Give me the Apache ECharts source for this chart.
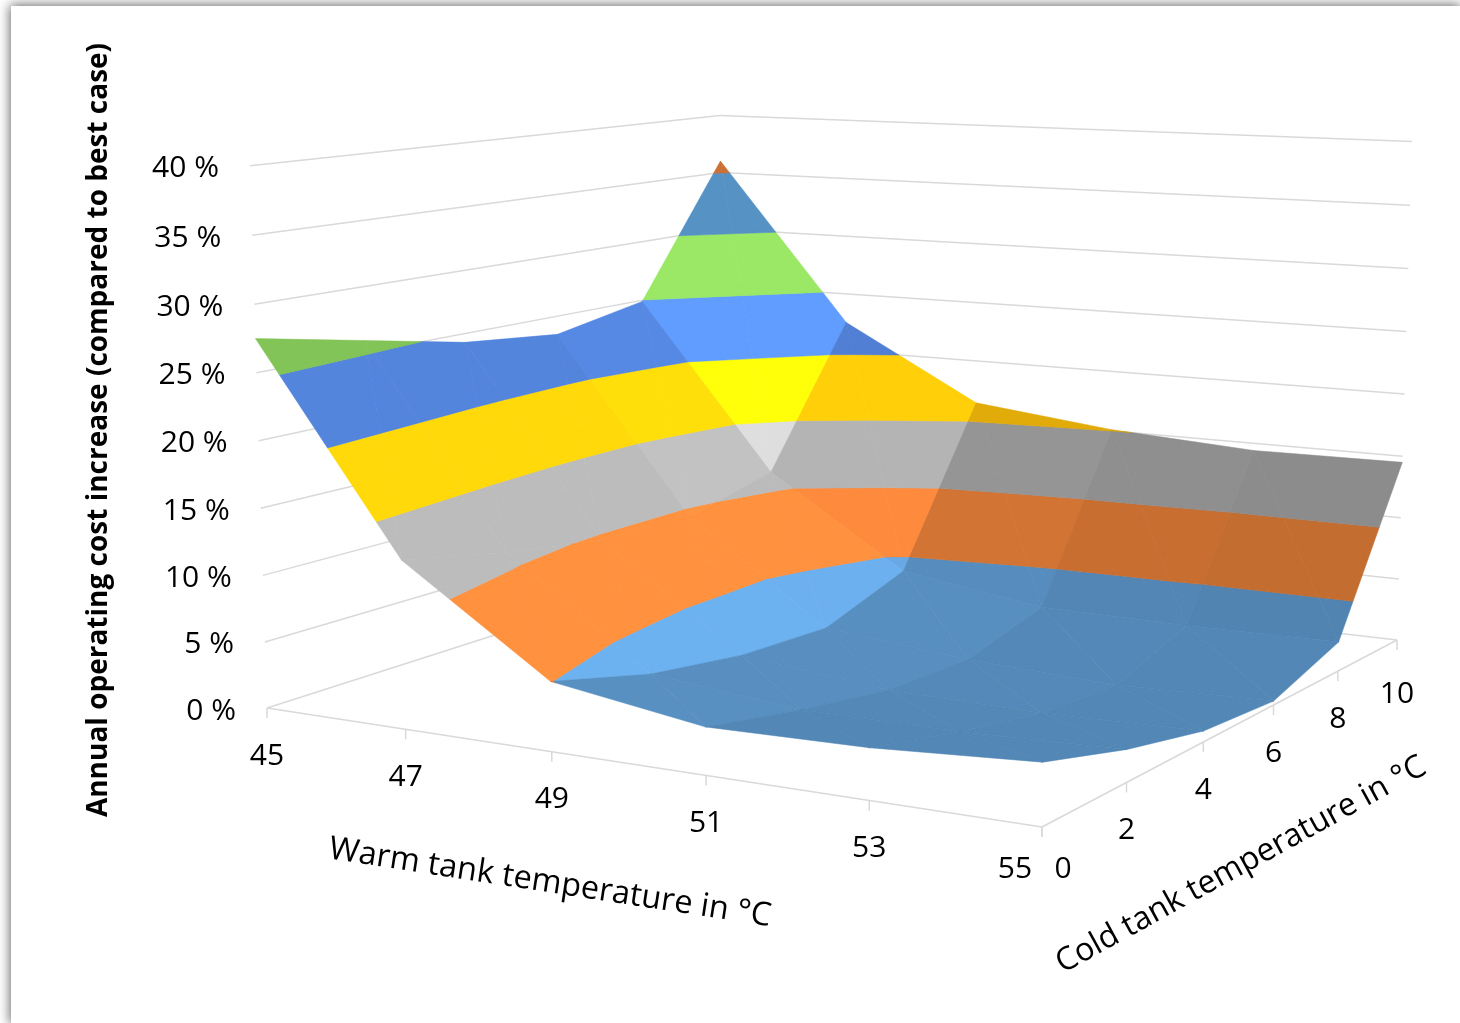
<!DOCTYPE html>
<html>
<head>
<meta charset="utf-8">
<style>
  html, body { margin: 0; height: 100%; background: #fff; overflow: hidden; }
  #chart { position: absolute; left: 11px; top: 6px; width: 1449px; height: 1017px; background: #fff; box-shadow: 0 0 11px 1px #666; }
</style>
<script src="https://cdn.jsdelivr.net/npm/echarts@6/dist/echarts.min.js"></script>
</head>
<body>
<div id="chart"></div>
<script>
const warmTemps = [45, 47, 49, 51, 53, 55]
const coldTemps = [0, 2, 4, 6, 8, 10]
const costLevels = [0, 5, 10, 15, 20, 25, 30, 35, 40]
const costLabels = ['0 %', '5 %', '10 %', '15 %', '20 %', '25 %', '30 %', '35 %', '40 %']

// cost increase in %, one list per warm tank temperature, cold 0 -> 10
const costWarm45 = [27.5, 25.9, 24.3, 23.5, 24.9, 36.0]
const costWarm47 = [12.4, 10.8, 9.6, 9.4, 11.2, 22.5]
const costWarm49 = [5.05, 3.0, 1.9, 1.6, 4.0, 16.4]
const costWarm51 = [3.4, 1.9, 0.7, 0.5, 2.3, 15.1]
const costWarm53 = [3.6, 1.9, 0.5, 0.0, 2.2, 14.4]
const costWarm55 = [4.3, 2.3, 0.8, 0.3, 2.3, 14.5]
const costRows = [costWarm45, costWarm47, costWarm49, costWarm51, costWarm53, costWarm55]

const bandColors = ['#5B9BD5', '#ED7D31', '#A5A5A5', '#FFC000', '#4472C4', '#70AD47', '#3C6A92', '#965022']

// projection of the 3d box, fitted on the corners of the reference
const floorCorners = [[267, 708], [1042, 827], [1397, 640], [723, 562]]
const topLeftFront = [250, 166]
const verticalVanish = [842, 19051]

function buildCamera() {
  const [[x0, y0], [x1, y1], [x2, y2], [x3, y3]] = floorCorners
  const dx1 = x1 - x2, dx2 = x3 - x2, sx = x0 - x1 + x2 - x3
  const dy1 = y1 - y2, dy2 = y3 - y2, sy = y0 - y1 + y2 - y3
  const den = dx1 * dy2 - dx2 * dy1
  const g = (sx * dy2 - dx2 * sy) / den
  const h = (dx1 * sy - sx * dy1) / den
  const a = x1 - x0 + g * x1, b = x3 - x0 + h * x3
  const d = y1 - y0 + g * y1, e = y3 - y0 + h * y3
  const k = (topLeftFront[0] - x0) / (verticalVanish[0] - topLeftFront[0])
  return { a, b, c: x0, d, e, f: y0, g, h, kx: k * verticalVanish[0], ky: k * verticalVanish[1], kw: k }
}
const cam = buildCamera()

function project(warm, cold, cost) {
  const u = (warm - 45) / 10, v = cold / 10, t = cost / 40
  const w = cam.g * u + cam.h * v + 1 + cam.kw * t
  return [
    (cam.a * u + cam.b * v + cam.c + cam.kx * t) / w,
    (cam.d * u + cam.e * v + cam.f + cam.ky * t) / w
  ]
}

function clipByCost(poly, limit, keepAbove) {
  const res = []
  poly.forEach((p, n) => {
    const q = poly[(n + 1) % poly.length]
    const pIn = keepAbove ? p[2] >= limit : p[2] <= limit
    const qIn = keepAbove ? q[2] >= limit : q[2] <= limit
    if (pIn) res.push(p)
    if (pIn !== qIn) {
      const s = (limit - p[2]) / (q[2] - p[2])
      res.push([p[0] + s * (q[0] - p[0]), p[1] + s * (q[1] - p[1]), limit])
    }
  })
  return res
}

function shade(hex, f) {
  const n = parseInt(hex.slice(1), 16)
  const ch = [n >> 16, (n >> 8) & 255, n & 255].map((v) => Math.min(255, Math.round(v * f)))
  return 'rgb(' + ch.join(',') + ')'
}

// rough lighting, from the slope of a grid cell
function cellLight(i, j) {
  const a = costRows[i][j], b = costRows[i + 1][j], c = costRows[i][j + 1], d = costRows[i + 1][j + 1]
  const fall = (a + c - b - d) / 2
  const rise = Math.max(0, Math.min(1, (c + d - a - b) / 2 / 10))
  const flatPart = 0.84 + 0.28 * Math.max(0, Math.min(1, fall / 7))
  const wallPart = 0.82 + 0.038 * Math.max(0, fall)
  return (1 - rise) * flatPart + rise * wallPart
}

const triangles = []
for (let i = 0; i < warmTemps.length - 1; i++) {
  for (let j = coldTemps.length - 2; j >= 0; j--) {
    triangles.push([i, j, 0], [i, j, 1])
  }
}

function vertex(i, j) {
  return [warmTemps[i], coldTemps[j], costRows[i][j]]
}

function renderFacet(params, api) {
  const i = api.value(0), j = api.value(1)
  const tri = api.value(2) === 0
    ? [vertex(i, j), vertex(i + 1, j), vertex(i, j + 1)]
    : [vertex(i + 1, j), vertex(i + 1, j + 1), vertex(i, j + 1)]
  const light = cellLight(i, j)
  const children = []
  bandColors.forEach((color, b) => {
    let poly = clipByCost(tri, costLevels[b], true)
    if (poly.length) poly = clipByCost(poly, costLevels[b + 1], false)
    if (poly.length < 3) return
    const fill = shade(color, light)
    children.push({
      type: 'polygon',
      shape: { points: poly.map((p) => api.coord(project(p[0], p[1], p[2]))) },
      style: { fill, stroke: fill, lineWidth: 0.5, opacity: 0.96 }
    })
  })
  return { type: 'group', children }
}

const gridStyle = { stroke: '#D9D9D9', lineWidth: 1.5 }

function line(api, a, b) {
  const p = api.coord(a), q = api.coord(b)
  return { type: 'line', shape: { x1: p[0], y1: p[1], x2: q[0], y2: q[1] }, style: gridStyle }
}

function renderWall(params, api) {
  const level = api.value(0)
  const children = [
    line(api, project(45, 0, level), project(45, 10, level)),
    line(api, project(45, 10, level), project(55, 10, level))
  ]
  if (level === 0) {
    children.push(line(api, project(45, 0, 0), project(55, 0, 0)), line(api, project(55, 0, 0), project(55, 10, 0)))
  }
  return { type: 'group', children }
}

const labelFont = '30px "Open Sans"'

function renderCostLabel(params, api) {
  const p = api.coord(project(45, 0, api.value(0)))
  return {
    type: 'text', x: p[0] - 31, y: p[1] + 3,
    style: { text: costLabels[params.dataIndex], font: labelFont, fill: '#000', align: 'right', verticalAlign: 'middle' }
  }
}

function renderWarmTick(params, api) {
  const p = api.coord(project(api.value(0), 0, 0))
  const last = params.dataIndex === warmTemps.length - 1
  return {
    type: 'group',
    children: [
      { type: 'line', shape: { x1: p[0], y1: p[1], x2: p[0], y2: p[1] + 10 }, style: gridStyle },
      {
        type: 'text', x: p[0] + (last ? -27 : 0), y: p[1] + (last ? 42 : 48),
        style: { text: String(warmTemps[params.dataIndex]), font: labelFont, fill: '#000', align: 'center', verticalAlign: 'middle' }
      }
    ]
  }
}

function renderColdTick(params, api) {
  const p = api.coord(project(55, api.value(0), 0))
  const first = params.dataIndex === 0
  const last = params.dataIndex === coldTemps.length - 1
  return {
    type: 'group',
    children: [
      { type: 'line', shape: { x1: p[0], y1: p[1], x2: p[0], y2: p[1] + 10 }, style: gridStyle },
      {
        type: 'text', x: p[0] + (first ? 21 : 0), y: p[1] + (first ? 42 : last ? 54 : 48),
        style: { text: String(coldTemps[params.dataIndex]), font: labelFont, fill: '#000', align: 'center', verticalAlign: 'middle' }
      }
    ]
  }
}

function customSeries(data, renderItem) {
  return { type: 'custom', data, renderItem, silent: true, animation: false, clip: false, progressive: 0, encode: { x: 0, y: 1 } }
}

const chart = echarts.init(document.getElementById('chart'), null, { renderer: 'canvas' })
chart.setOption({
  animation: false,
  backgroundColor: '#fff',
  grid: { left: 0, right: 0, top: 0, bottom: 0 },
  xAxis: { type: 'value', min: 11, max: 1460, show: false },
  yAxis: { type: 'value', min: 6, max: 1023, inverse: true, show: false },
  series: [
    customSeries(costLevels.map((v) => [v]), renderWall),
    customSeries(triangles, renderFacet),
    customSeries(costLevels.map((v) => [v]), renderCostLabel),
    customSeries(warmTemps.map((v) => [v]), renderWarmTick),
    customSeries(coldTemps.map((v) => [v]), renderColdTick)
  ],
  graphic: [
    {
      type: 'text', x: 88, y: 424, rotation: Math.PI / 2,
      style: { text: 'Annual operating cost increase (compared to best case)', font: 'bold 28px "Open Sans"', fill: '#000', align: 'center', verticalAlign: 'middle' }
    },
    {
      type: 'text', x: 539, y: 877, rotation: -0.152,
      style: { text: 'Warm tank temperature in °C', font: '32.5px "Open Sans"', fill: '#000', align: 'center', verticalAlign: 'middle' }
    },
    {
      type: 'text', x: 1230, y: 859, rotation: 0.503,
      style: { text: 'Cold tank temperature in °C', font: '32px "Open Sans"', fill: '#000', align: 'center', verticalAlign: 'middle' }
    }
  ]
})
</script>
</body>
</html>
